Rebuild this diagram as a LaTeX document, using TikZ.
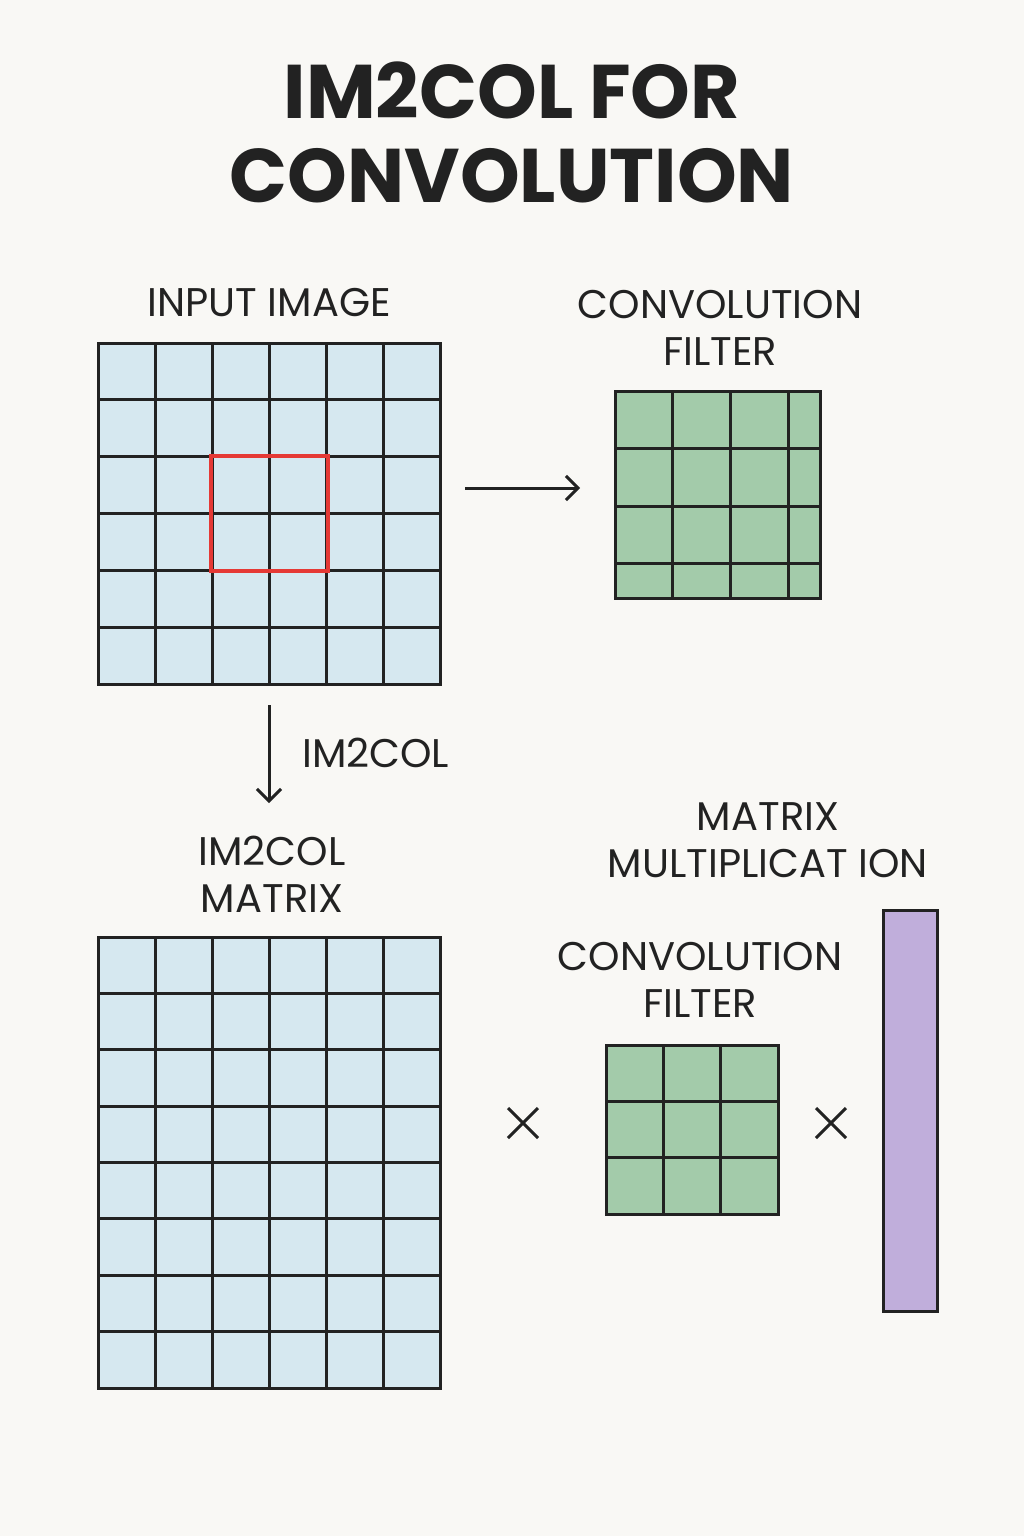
\documentclass[tikz,border=0pt]{standalone}
\usepackage{fontspec}
\setmainfont{Poppins}
\definecolor{bg}{HTML}{F9F8F5}
\definecolor{ink}{HTML}{222222}
\definecolor{cellblue}{HTML}{D6E8F0}
\definecolor{cellgreen}{HTML}{A3CBAA}
\definecolor{barpurple}{HTML}{C0AEDB}
\definecolor{redbox}{HTML}{E53935}
\usetikzlibrary{arrows.meta}
\tikzset{
  lbl/.style={text=ink, font=\fontsize{40}{47}\selectfont, align=center, inner sep=0pt},
  ttl/.style={text=ink, font=\bfseries\fontsize{76}{86}\selectfont, align=center, inner sep=0pt},
  gridline/.style={draw=ink, line width=3pt},
  arr/.style={draw=ink, line width=3pt, -{Straight Barb[length=12pt,width=24pt]}},
}
\begin{document}
\begin{tikzpicture}[x=1pt,y=-1pt]
\fill[bg] (0,0) rectangle (1024,1536);
\node[ttl] (t1) at (512,90) {IM2COL FOR};
\node[ttl] (t2) at (512,176) {CONVOLUTION};
% input image
\node[lbl] (lin) at (269,303) {INPUT IMAGE};
\fill[cellblue] (98,343) rectangle (440,684);
\foreach \i in {1,...,5} {
  \draw[gridline] ({98+57*\i},343) -- ({98+57*\i},684);
  \draw[gridline] (98,{343+56.83*\i}) -- (440,{343+56.83*\i});
}
\draw[gridline] (98,343) rectangle (440,684);
\node[draw=redbox, line width=3.5pt, minimum width=117pt, minimum height=115pt, inner sep=0pt] (red) at (269.5,513.5) {};
% filter 1
\node[lbl] (lf1) at (720,328) {CONVOLUTION\\FILTER};
\fill[cellgreen] (615,391) rectangle (820,598);
\foreach \x in {672,730,788} \draw[gridline] (\x,391) -- (\x,598);
\foreach \y in {448,506,563} \draw[gridline] (615,\y) -- (820,\y);
\draw[gridline] (615,391) rectangle (820,598);
\coordinate (a1) at (465,488);
\coordinate (a2) at (580,488);
\draw[arr] (a1) -- (a2);
% im2col arrow
\coordinate (d1) at (269,705);
\coordinate (d2) at (269,803);
\draw[arr] (d1) -- (d2);
\node[lbl, anchor=west] (lim) at (302,753) {IM2COL};
% matrix
\node[lbl] (lmat) at (272,874) {IM2COL\\MATRIX};
\fill[cellblue] (98,937) rectangle (440,1388);
\foreach \i in {1,...,5} \draw[gridline] ({98+57*\i},937) -- ({98+57*\i},1388);
\foreach \i in {1,...,7} \draw[gridline] (98,{937+56.375*\i}) -- (440,{937+56.375*\i});
\draw[gridline] (98,937) rectangle (440,1388);
\node[lbl] (lmm) at (768,840) {MATRIX\\MULTIPLICAT ION};
\node[lbl] (lf2) at (700,980) {CONVOLUTION\\FILTER};
\fill[cellgreen] (606,1045) rectangle (778,1214);
\foreach \i in {1,2} {
  \draw[gridline] ({606+57.33*\i},1045) -- ({606+57.33*\i},1214);
  \draw[gridline] (606,{1045+56.33*\i}) -- (778,{1045+56.33*\i});
}
\draw[gridline] (606,1045) rectangle (778,1214);
\node[fill=barpurple, draw=ink, line width=3pt, minimum width=54pt, minimum height=401pt, inner sep=0pt] (bar) at (910,1110.5) {};
\draw[ink, line width=3pt] (508,1108) -- (538,1138) (508,1138) -- (538,1108);
\draw[ink, line width=3pt] (816,1108) -- (846,1138) (816,1138) -- (846,1108);
\end{tikzpicture}
\end{document}
